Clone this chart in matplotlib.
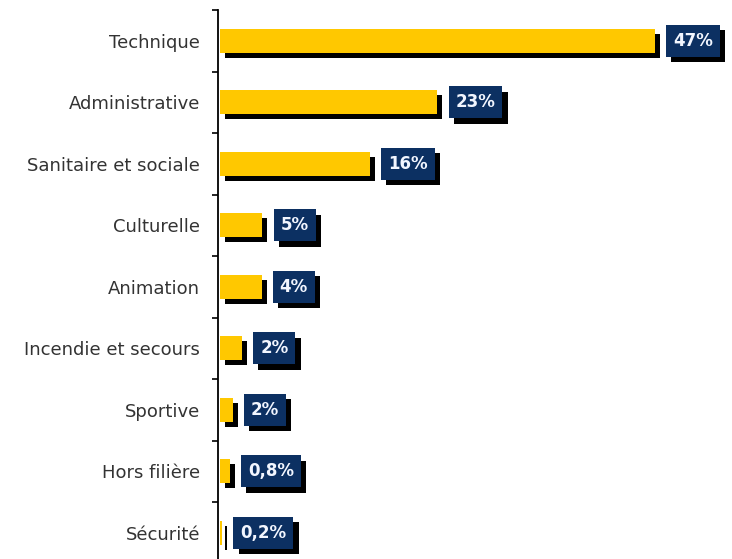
import numpy as np
import matplotlib
matplotlib.use("Agg")
import matplotlib.pyplot as plt
import matplotlib.transforms as mtransforms
import matplotlib.patheffects as pe

categories = ["Technique", "Administrative", "Sanitaire et sociale", "Culturelle",
              "Animation", "Incendie et secours", "Sportive", "Hors filière", "Sécurité"]
values = [47, 23.5, 16.2, 4.6, 4.5, 2.4, 1.4, 1.1, 0.25]
value_labels = ["47%", "23%", "16%", "5%", "4%", "2%", "2%", "0,8%", "0,2%"]

yellow = "#ffc800"
navy = "#0c3062"

fig = plt.figure(figsize=(7.32, 5.59), dpi=100)
ax = fig.add_axes([218 / 732, -4.5 / 559, 514 / 732, 553.5 / 559])

n = len(categories)
y = np.arange(n)

# black drop shadow under each bar, shifted a few pixels right and down
shadow = mtransforms.offset_copy(ax.transData, fig=fig, x=5, y=-5, units="dots")
ax.barh(y, values, height=0.39, color="black", transform=shadow, zorder=1)
ax.barh(y, values, height=0.39, color=yellow, zorder=2)

# value labels in navy boxes with a black shadow
for i, (v, lab) in enumerate(zip(values, value_labels)):
    t = ax.annotate(lab, xy=(v, i), xytext=(13, 0), textcoords="offset points",
                    ha="left", va="center", fontsize=12, fontweight="bold", color="#f2f6ff",
                    bbox=dict(boxstyle="square,pad=0.42", fc=navy, ec="none"),
                    annotation_clip=False, zorder=4)
    t.get_bbox_patch().set_path_effects([
        pe.SimplePatchShadow(offset=(3.8, -3.8), shadow_rgbFace="black", alpha=1),
        pe.Normal()])

ax.set_xlim(-0.2, -0.2 + 514 / 9.26)
ax.set_ylim(n - 0.5, -0.5)

# ticks between categories, labels centred on bars
ax.set_yticks(np.arange(n + 1) - 0.5)
ax.set_yticklabels([])
ax.set_yticks(y, minor=True)
ax.set_yticklabels(categories, minor=True, fontsize=13, color="#333333")
ax.tick_params(axis="y", which="major", length=4.5, width=1.2, direction="out")
ax.tick_params(axis="y", which="minor", length=0, pad=13)
ax.set_xticks([])

for s in ["top", "right", "bottom"]:
    ax.spines[s].set_visible(False)
ax.spines["left"].set_linewidth(1.3)

fig.savefig("out.png", dpi=100)
